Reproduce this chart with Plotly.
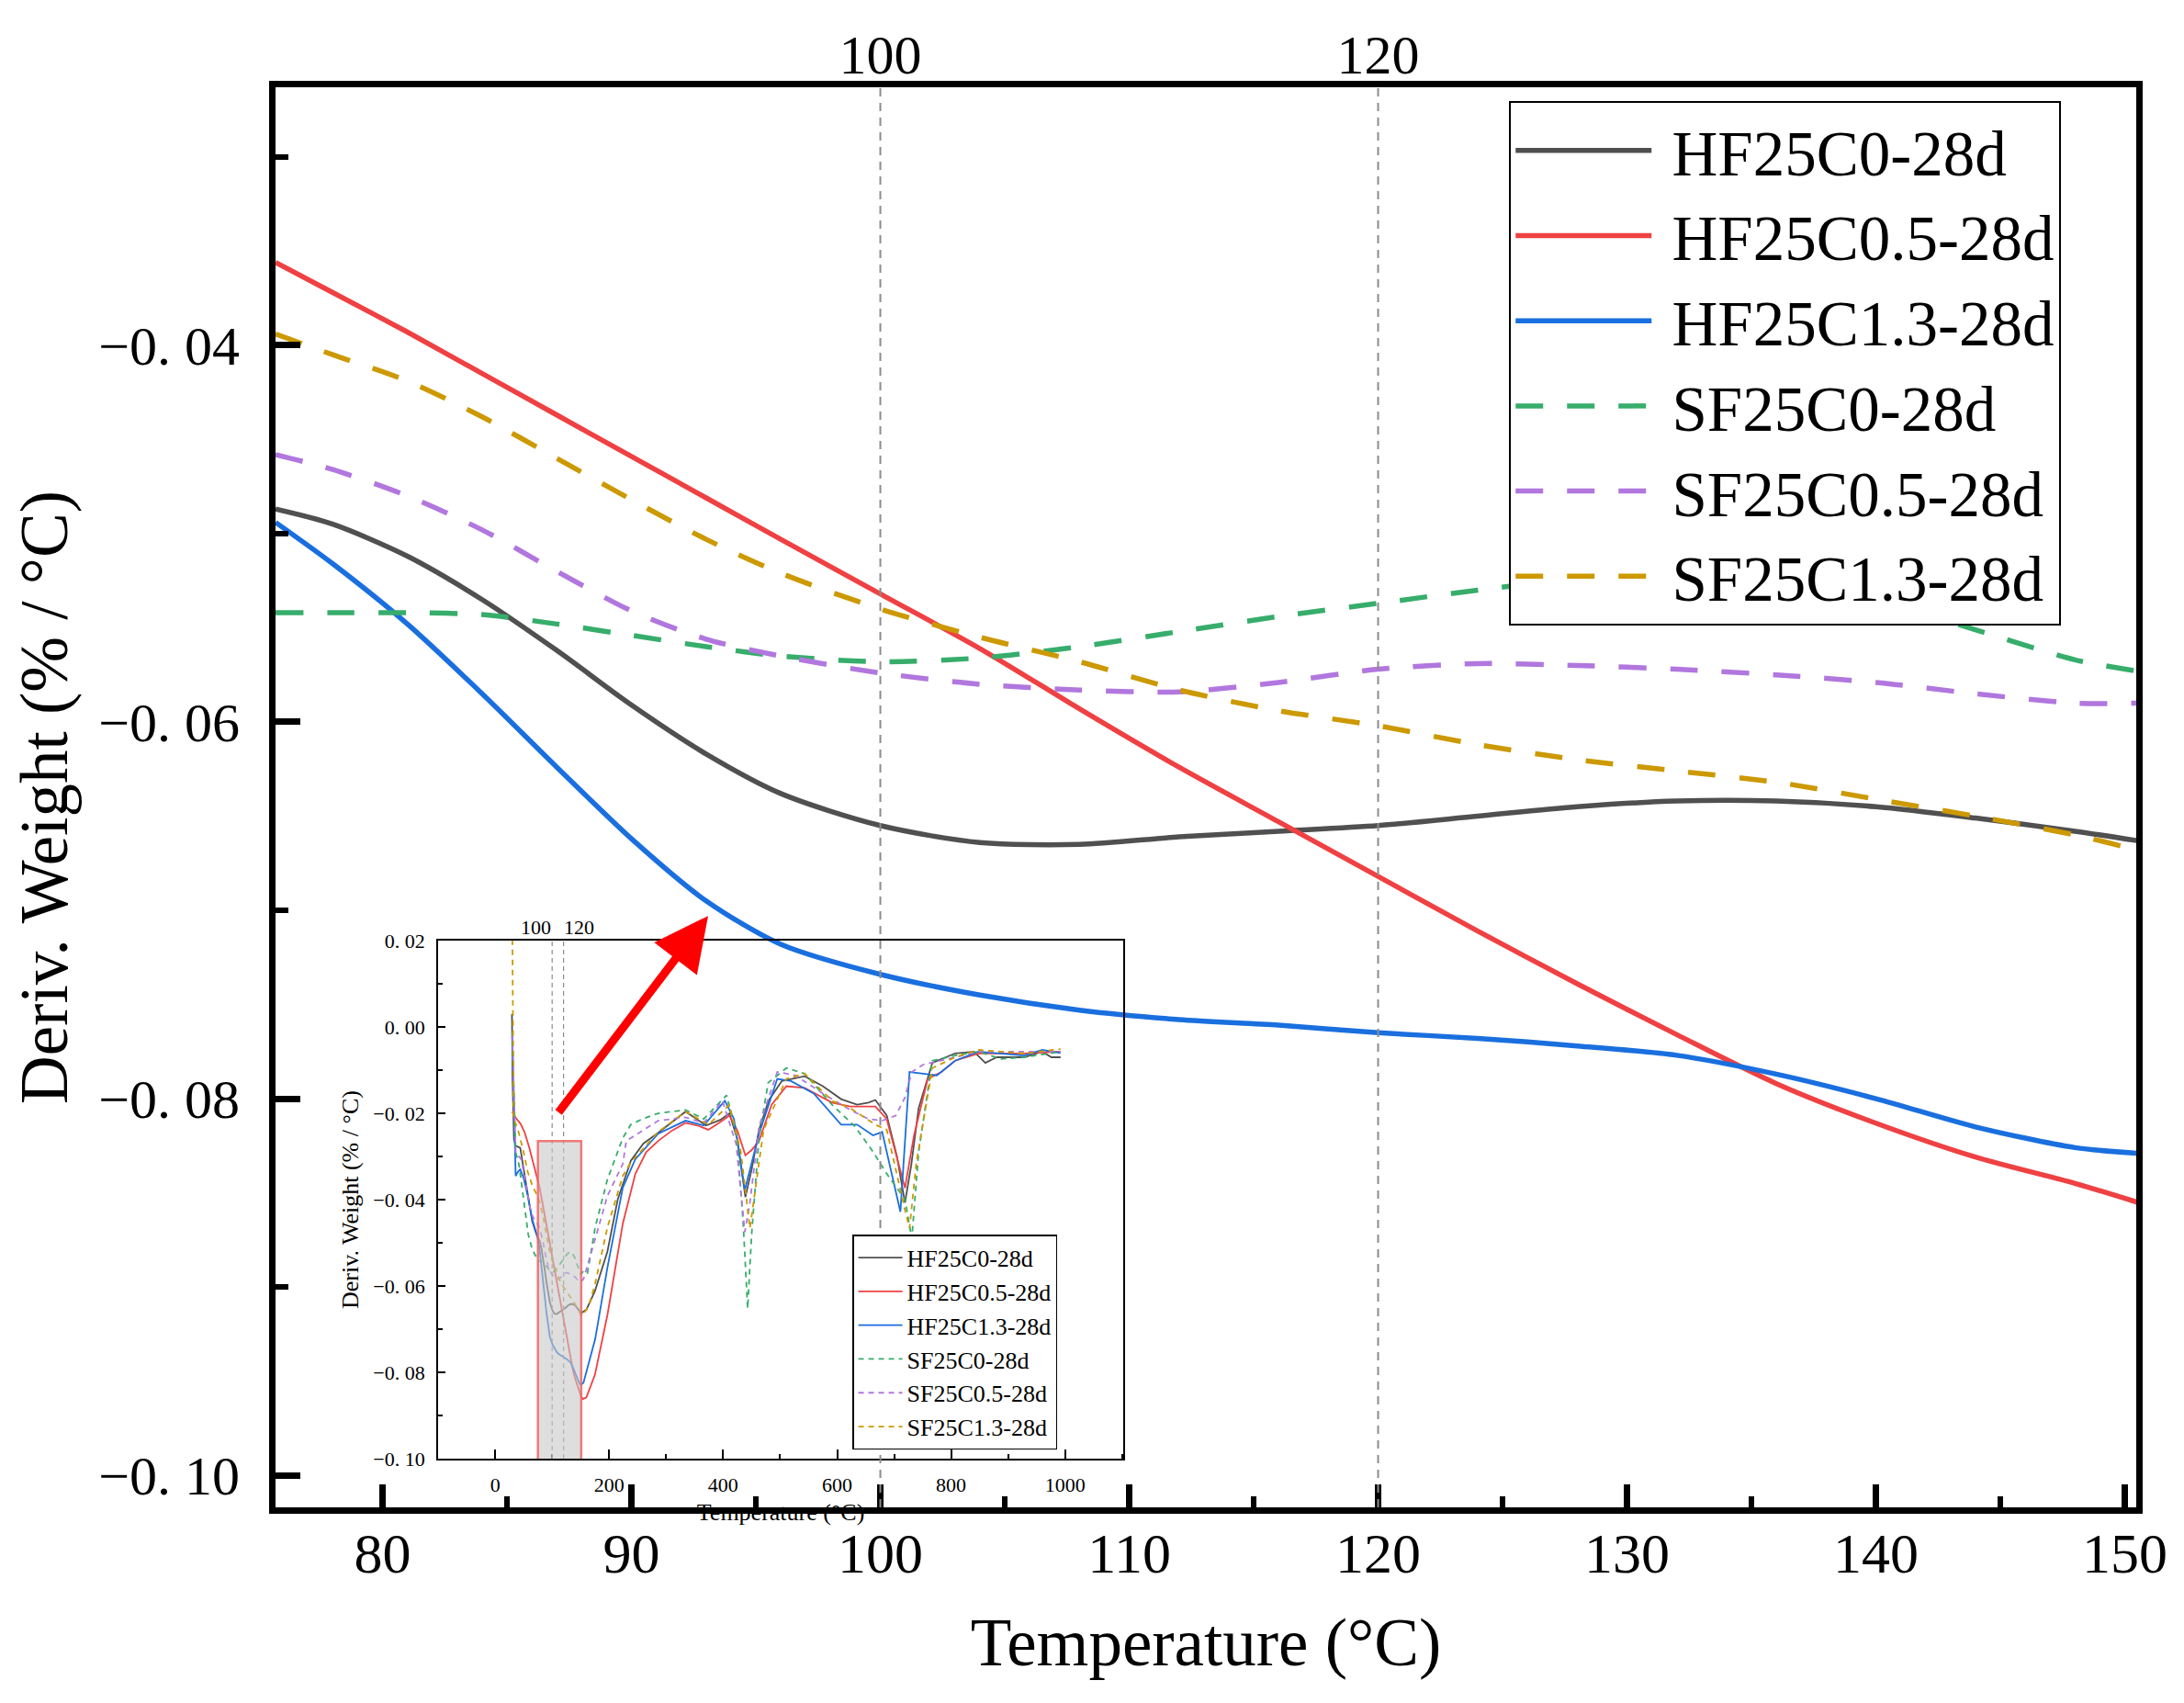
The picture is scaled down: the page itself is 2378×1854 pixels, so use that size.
"""DTG curves of the six mixes, zoomed to 75-150 degC, with the full-range curves inset."""
import plotly.graph_objects as go

FONT = "Liberation Serif, Times New Roman, serif"

# ---- main (zoomed) chart -------------------------------------------------
MAIN_TEMP = [75.7, 78, 81, 84, 87, 90, 93, 96, 100, 104, 108, 112, 116, 120,
             124, 128, 132, 136, 140, 144, 148, 150.5]
HF25C0 = [-0.0487, -0.0495, -0.0512, -0.0535, -0.0562, -0.0591, -0.0617, -0.0638,
          -0.0655, -0.0664, -0.0665, -0.0661, -0.0658, -0.0655, -0.0650, -0.0645,
          -0.0642, -0.0642, -0.0645, -0.0651, -0.0658, -0.0663]
HF25C05 = [-0.0356, -0.0372, -0.0393, -0.0415, -0.0437, -0.0459, -0.0481, -0.0503,
           -0.0532, -0.0561, -0.0593, -0.0624, -0.0653, -0.0682, -0.0711, -0.0739,
           -0.0766, -0.0792, -0.0813, -0.0831, -0.0845, -0.0855]
HF25C13 = [-0.0494, -0.0516, -0.0548, -0.0585, -0.0624, -0.0662, -0.0695, -0.0718,
           -0.0734, -0.0745, -0.0753, -0.0758, -0.0761, -0.0765, -0.0768, -0.0772,
           -0.0777, -0.0787, -0.0800, -0.0815, -0.0826, -0.0829]
SF25C0 = [-0.0542, -0.0542, -0.0542, -0.0543, -0.0548, -0.0554, -0.0560, -0.0565,
          -0.0568, -0.0566, -0.0560, -0.0552, -0.0544, -0.0537, -0.0530, -0.0524,
          -0.0521, -0.0525, -0.0535, -0.0551, -0.0567, -0.0573]
SF25C05 = [-0.0458, -0.0466, -0.0480, -0.0498, -0.0520, -0.0541, -0.0556, -0.0565,
           -0.0574, -0.0580, -0.0583, -0.0584, -0.0579, -0.0572, -0.0569, -0.0570,
           -0.0572, -0.0575, -0.0579, -0.0585, -0.0590, -0.0590]
SF25C13 = [-0.0394, -0.0405, -0.0419, -0.0438, -0.0460, -0.0482, -0.0503, -0.0521,
           -0.0540, -0.0555, -0.0568, -0.0583, -0.0594, -0.0602, -0.0612, -0.0620,
           -0.0626, -0.0632, -0.0641, -0.0650, -0.0660, -0.0668]

# ---- inset (full range): parts below and above the zoomed window -----------
HF25C0_LOW_T = [29.5, 30.5, 33, 36, 44, 50, 57, 65, 72]
HF25C0_LOW = [0.003, -0.012, -0.026, -0.0275, -0.028, -0.033, -0.039, -0.045, -0.0478]
HF25C0_HIGH_T = [160, 175, 197, 215, 238, 260, 286, 310, 334, 350, 370, 395, 411, 425,
                 439, 450, 463, 480, 503, 543, 575, 607, 635, 655, 667, 687, 705, 719,
                 730, 743, 767, 807, 840, 860, 880, 928, 960, 976, 992]
HF25C0_HIGH = [-0.0655, -0.0612, -0.052, -0.040, -0.031, -0.027, -0.0245, -0.022,
               -0.0196, -0.021, -0.0228, -0.0215, -0.020, -0.026, -0.0394, -0.033,
               -0.0238, -0.017, -0.0125, -0.0114, -0.0137, -0.0167, -0.018, -0.0175,
               -0.0169, -0.0205, -0.030, -0.0407, -0.032, -0.0188, -0.0083, -0.0061,
               -0.0057, -0.0083, -0.007, -0.007, -0.0057, -0.007, -0.007]

HF25C05_LOW_T = [30, 36, 45, 52, 60, 68, 73]
HF25C05_LOW = [-0.0196, -0.021, -0.0225, -0.0245, -0.028, -0.032, -0.0348]
HF25C05_HIGH_T = [154, 160, 175, 197, 224, 246, 265, 286, 310, 334, 355, 374, 395, 411,
                  425, 439, 450, 463, 485, 511, 543, 570, 591, 623, 667, 687, 705, 719,
                  735, 759, 783, 807, 848, 928, 992]
HF25C05_HIGH = [-0.0862, -0.0858, -0.0806, -0.0667, -0.0455, -0.034, -0.029, -0.0264,
                -0.024, -0.0222, -0.0228, -0.0238, -0.022, -0.0205, -0.024, -0.0297,
                -0.0285, -0.0264, -0.018, -0.0137, -0.0141, -0.016, -0.0175, -0.0184,
                -0.0184, -0.0213, -0.030, -0.0373, -0.025, -0.012, -0.0104, -0.0078,
                -0.0061, -0.0061, -0.0057]

HF25C13_LOW_T = [30, 33, 36, 40, 44, 50, 57, 65, 73]
HF25C13_LOW = [-0.002, -0.018, -0.0345, -0.0335, -0.033, -0.035, -0.039, -0.0445, -0.0485]
HF25C13_HIGH_T = [155, 175.5, 197, 224, 246, 286, 334, 366, 403, 419, 438, 463, 495,
                  519, 559, 607, 635, 663, 679, 711, 727, 751, 775, 807, 848, 928,
                  960, 992]
HF25C13_HIGH = [-0.0824, -0.0723, -0.0557, -0.0372, -0.0306, -0.0247, -0.0217, -0.0228,
                -0.0171, -0.0213, -0.0378, -0.0247, -0.012, -0.0125, -0.0154, -0.0226,
                -0.0226, -0.0251, -0.0243, -0.0428, -0.0104, -0.0108, -0.0112, -0.0078,
                -0.0057, -0.0066, -0.0053, -0.006]

SF25C0_LOW_T = [30, 33, 36, 42, 50, 58, 65, 72]
SF25C0_LOW = [-0.001, -0.015, -0.029, -0.032, -0.040, -0.048, -0.0515, -0.0535]
SF25C0_HIGH_T = [155, 162, 175.5, 197, 224, 238, 260, 286, 334, 366, 406, 424, 435, 443,
                 450, 463, 479, 511, 543, 591, 631, 663, 687, 719, 731, 743, 767, 807,
                 848, 888, 928, 992]
SF25C0_HIGH = [-0.0565, -0.057, -0.0464, -0.0353, -0.0257, -0.0226, -0.0212, -0.020,
               -0.0192, -0.0213, -0.0158, -0.0255, -0.045, -0.0652, -0.048, -0.0255,
               -0.0129, -0.0095, -0.0108, -0.018, -0.023, -0.0289, -0.034, -0.0399,
               -0.0491, -0.0289, -0.0078, -0.0066, -0.0057, -0.0074, -0.007, -0.0057]

SF25C05_LOW_T = [30, 33, 36, 46, 55, 63, 70]
SF25C05_LOW = [-0.002, -0.015, -0.029, -0.0307, -0.037, -0.043, -0.045]
SF25C05_HIGH_T = [155, 175.5, 197, 224, 230, 286, 334, 366, 399, 423, 438, 447, 463, 495,
                  527, 575, 623, 655, 679, 703, 719, 731, 751, 807, 848, 992]
SF25C05_HIGH = [-0.0584, -0.0491, -0.0391, -0.0317, -0.0264, -0.0217, -0.0209, -0.0222,
                -0.0171, -0.0272, -0.0475, -0.0407, -0.023, -0.0104, -0.0112, -0.0154,
                -0.0192, -0.0213, -0.0217, -0.0205, -0.0163, -0.0104, -0.0087, -0.007,
                -0.0057, -0.0057]

SF25C13_LOW_T = [30, 31, 32.5, 41, 50, 57, 66, 73]
SF25C13_LOW = [0.025, 0.0, -0.021, -0.0243, -0.029, -0.0335, -0.037, -0.0388]
SF25C13_HIGH_T = [154, 164.7, 175.5, 197, 224, 238, 286, 334, 374, 411, 431, 447, 459,
                  471, 511, 543, 591, 623, 667, 687, 719, 727, 739, 767, 807, 848, 928,
                  992]
SF25C13_HIGH = [-0.0667, -0.0645, -0.0594, -0.0464, -0.0345, -0.0314, -0.0243, -0.0196,
                -0.0226, -0.018, -0.0289, -0.0466, -0.0356, -0.0238, -0.012, -0.0108,
                -0.0171, -0.0188, -0.0226, -0.0238, -0.0424, -0.0466, -0.0314, -0.0095,
                -0.007, -0.0053, -0.0061, -0.0051]

NAMES = ["HF25C0-28d", "HF25C0.5-28d", "HF25C1.3-28d",
         "SF25C0-28d", "SF25C0.5-28d", "SF25C1.3-28d"]
COLORS = ["#505050", "#EF4143", "#1A6FDF", "#37AD6B", "#B177DE", "#CC9900"]
DASHED = [False, False, False, True, True, True]

MAIN_SERIES = [HF25C0, HF25C05, HF25C13, SF25C0, SF25C05, SF25C13]
INSET_PARTS = [
    (HF25C0_LOW_T, HF25C0_LOW, HF25C0_HIGH_T, HF25C0_HIGH),
    (HF25C05_LOW_T, HF25C05_LOW, HF25C05_HIGH_T, HF25C05_HIGH),
    (HF25C13_LOW_T, HF25C13_LOW, HF25C13_HIGH_T, HF25C13_HIGH),
    (SF25C0_LOW_T, SF25C0_LOW, SF25C0_HIGH_T, SF25C0_HIGH),
    (SF25C05_LOW_T, SF25C05_LOW, SF25C05_HIGH_T, SF25C05_HIGH),
    (SF25C13_LOW_T, SF25C13_LOW, SF25C13_HIGH_T, SF25C13_HIGH),
]

MAIN_YTICKS = [-0.10, -0.08, -0.06, -0.04]
INSET_YTICKS = [-0.10, -0.08, -0.06, -0.04, -0.02, 0.00, 0.02]


def fmt_tick(v):
    """Origin-style label, e.g. -0.04 -> '−0. 04'."""
    s = f"{abs(v):.2f}".replace(".", ". ")
    return ("−" if v < 0 else "") + s


fig = go.Figure()

# main traces
for name, color, dashed, ys in zip(NAMES, COLORS, DASHED, MAIN_SERIES):
    fig.add_trace(go.Scatter(
        x=MAIN_TEMP, y=ys, name=" " + name, mode="lines", legend="legend",
        line=dict(color=color, width=5.5, shape="spline", smoothing=0.8,
                  dash="30px,26px" if dashed else "solid"),
    ))

# inset traces: low part + zoomed window + high part
for name, color, dashed, ys, parts in zip(NAMES, COLORS, DASHED, MAIN_SERIES, INSET_PARTS):
    lo_t, lo_v, hi_t, hi_v = parts
    fig.add_trace(go.Scatter(
        x=lo_t + MAIN_TEMP + hi_t, y=lo_v + ys + hi_v, name=name, mode="lines",
        xaxis="x2", yaxis="y2", legend="legend2", cliponaxis=True,
        line=dict(color=color, width=1.8, dash="6px,5px" if dashed else "solid"),
    ))

# carrier for the top tick labels
fig.add_trace(go.Scatter(x=[100, 120], y=[-0.05, -0.05], xaxis="x3", yaxis="y",
                         mode="markers", marker=dict(opacity=0), showlegend=False,
                         hoverinfo="skip"))

# dashed guide lines at 100 / 120
for t in (100, 120):
    fig.add_shape(type="line", xref="x", yref="y domain", x0=t, x1=t, y0=0, y1=1,
                  line=dict(color="#8c8c8c", width=2, dash="9px,7px"))
    fig.add_shape(type="line", xref="x2", yref="y2 domain", x0=t, x1=t, y0=0, y1=1,
                  line=dict(color="#8c8c8c", width=1.2, dash="5px,4px"))

# zoom window marked in the inset
fig.add_shape(type="rect", xref="x2", yref="y2", x0=75, x1=151, y0=-0.1017, y1=-0.0264,
              fillcolor="rgba(200,200,200,0.6)", layer="above",
              line=dict(color="rgba(240,100,100,0.85)", width=2.5))

fig.add_annotation(xref="x", yref="y", axref="x", ayref="y", x=93.08, y=-0.0703,
                   ax=87.03, ay=-0.0808, text="", showarrow=True, arrowhead=2,
                   arrowsize=1.3, arrowwidth=9, arrowcolor="#FF0000", standoff=0)
fig.add_annotation(xref="x2", yref="y2 domain", x=100, y=1, xshift=-18, yanchor="bottom",
                   text="100", showarrow=False, font=dict(family=FONT, size=22))
fig.add_annotation(xref="x2", yref="y2 domain", x=120, y=1, xshift=17, yanchor="bottom",
                   text="120", showarrow=False, font=dict(family=FONT, size=22))

fig.update_layout(
    width=2378, height=1854,
    margin=dict(l=292, r=60, t=87, b=221),
    paper_bgcolor="white", plot_bgcolor="rgba(0,0,0,0)",
    font=dict(family=FONT, color="black"),
    xaxis=dict(
        range=[75.7, 150.46], tickvals=[80, 90, 100, 110, 120, 130, 140, 150],
        ticks="inside", ticklen=25, tickwidth=7, tickcolor="black",
        minor=dict(dtick=5, tick0=0, ticks="inside", ticklen=12, tickwidth=6, tickcolor="black"),
        showline=True, linewidth=7, linecolor="black", mirror=True,
        showgrid=False, zeroline=False, ticklabelstandoff=-10,
        tickfont=dict(family=FONT, size=62),
        title=dict(text="Temperature (°C)", font=dict(family=FONT, size=73), standoff=40),
    ),
    yaxis=dict(
        range=[-0.1017, -0.0263], tickmode="array", tickvals=MAIN_YTICKS,
        ticktext=[fmt_tick(v) for v in MAIN_YTICKS],
        ticks="inside", ticklen=27, tickwidth=7, tickcolor="black",
        minor=dict(tickvals=[-0.09, -0.07, -0.05, -0.03], ticks="inside", ticklen=14,
                   tickwidth=6, tickcolor="black"),
        showline=True, linewidth=7, linecolor="black", mirror=True,
        showgrid=False, zeroline=False, ticklabelstandoff=20,
        tickfont=dict(family=FONT, size=60),
        title=dict(text="Deriv. Weight (% / °C)", font=dict(family=FONT, size=73), standoff=14),
    ),
    xaxis3=dict(
        overlaying="x", side="top", anchor="y", range=[75.7, 150.46],
        tickvals=[100, 120], ticks="", showline=False, showgrid=False, zeroline=False,
        tickfont=dict(family=FONT, size=60), ticklabelstandoff=2,
    ),
    xaxis2=dict(
        domain=[0.0874, 0.4556], anchor="y2", range=[-100, 1102],
        tickvals=[0, 200, 400, 600, 800, 1000],
        ticks="inside", ticklen=10, tickwidth=2, tickcolor="black",
        minor=dict(dtick=100, tick0=0, ticks="inside", ticklen=5, tickwidth=2, tickcolor="black"),
        showline=True, linewidth=2, linecolor="black", mirror=True,
        showgrid=False, zeroline=False, ticklabelstandoff=8,
        tickfont=dict(family=FONT, size=22),
        title=dict(text="Temperature (°C)", font=dict(family=FONT, size=26), standoff=8),
    ),
    yaxis2=dict(
        domain=[0.0343, 0.399], anchor="x2", range=[-0.10, 0.02],
        tickmode="array", tickvals=INSET_YTICKS,
        ticktext=[fmt_tick(v) for v in INSET_YTICKS],
        ticks="inside", ticklen=8, tickwidth=2, tickcolor="black",
        minor=dict(dtick=0.01, tick0=0, ticks="inside", ticklen=5, tickwidth=2, tickcolor="black"),
        showline=True, linewidth=2, linecolor="black", mirror=True,
        showgrid=False, zeroline=False, ticklabelstandoff=8,
        tickfont=dict(family=FONT, size=22),
        title=dict(text="Deriv. Weight (% / °C)", font=dict(family=FONT, size=26), standoff=8),
    ),
    legend=dict(
        x=0.663, y=0.99, xanchor="left", yanchor="top",
        bgcolor="white", bordercolor="black", borderwidth=2,
        font=dict(family=FONT, size=69), itemwidth=148, tracegroupgap=0,
    ),
    legend2=dict(
        x=0.31, y=0.192, xanchor="left", yanchor="top",
        bgcolor="white", bordercolor="black", borderwidth=1.5,
        font=dict(family=FONT, size=26), itemwidth=48, tracegroupgap=0,
    ),
)

fig.write_html("out.html")
